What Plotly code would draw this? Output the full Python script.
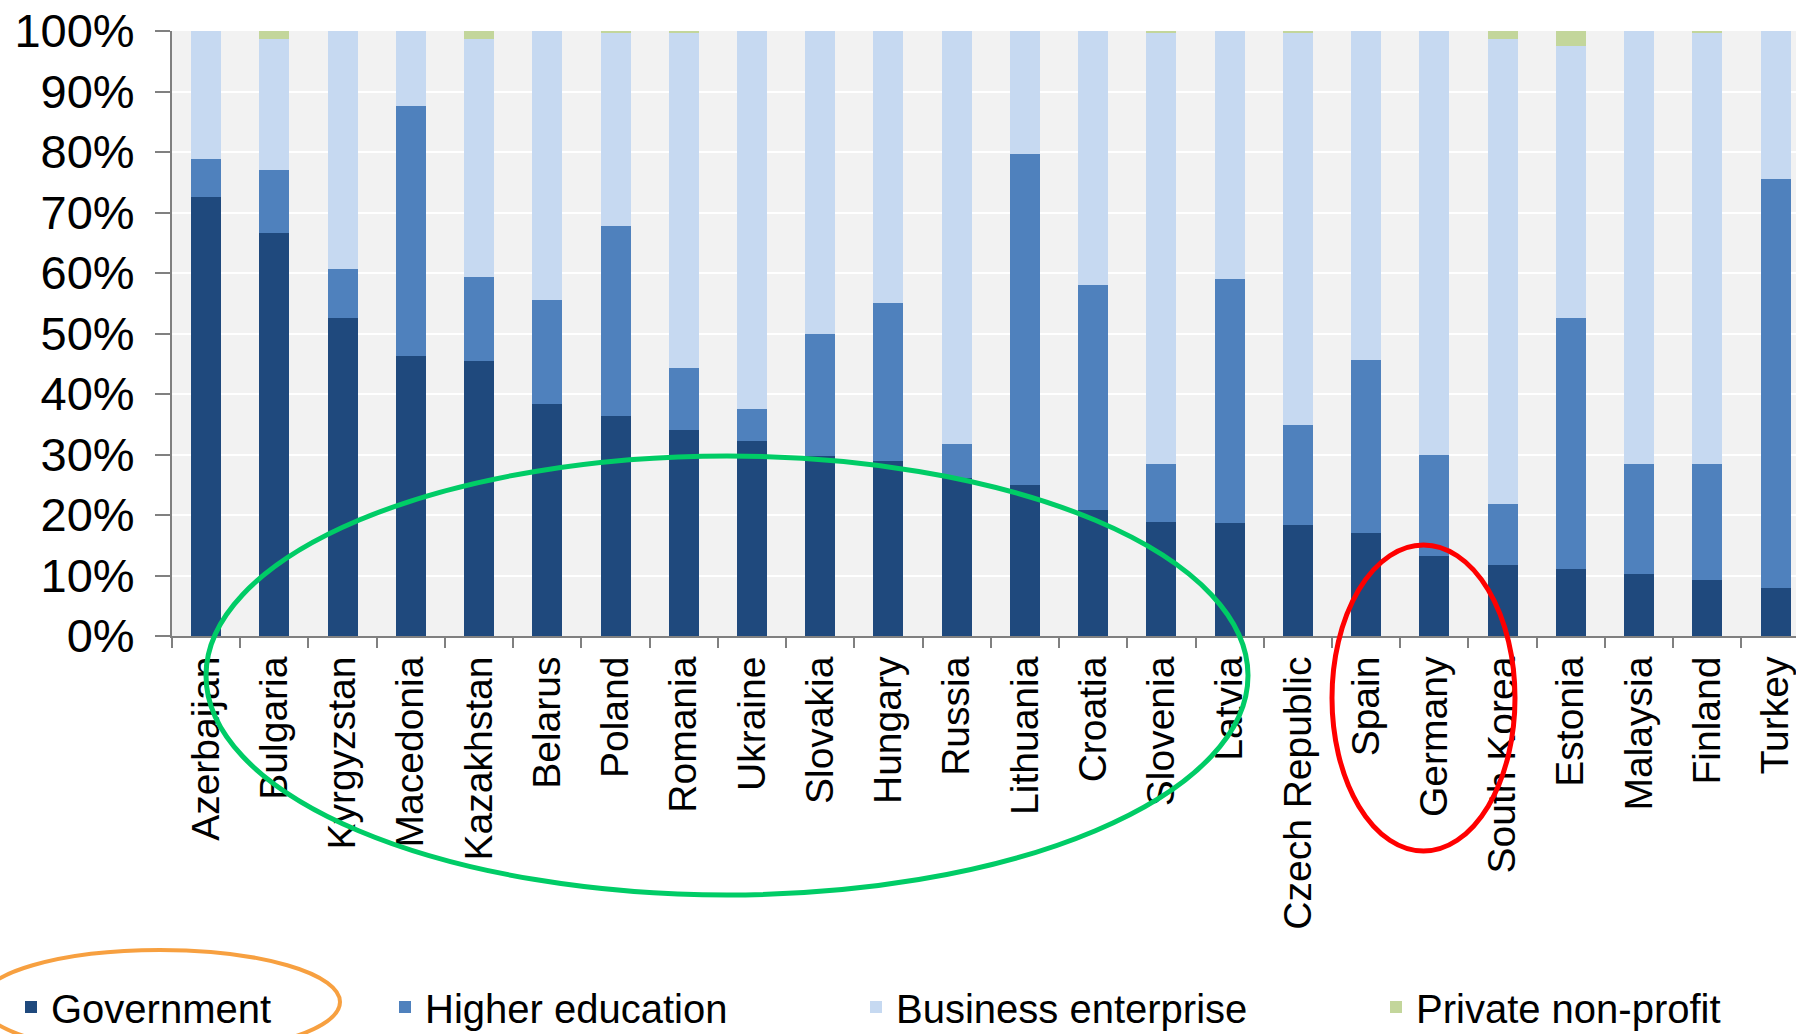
import plotly.graph_objects as go

countries = ["Azerbaijan", "Bulgaria", "Kyrgyzstan", "Macedonia", "Kazakhstan", "Belarus",
             "Poland", "Romania", "Ukraine", "Slovakia", "Hungary", "Russia", "Lithuania",
             "Croatia", "Slovenia", "Latvia", "Czech Republic", "Spain", "Germany",
             "South Korea", "Estonia", "Malaysia", "Finland", "Turkey"]

government = [72.5, 66.6, 52.5, 46.2, 45.4, 38.3, 36.3, 34.0, 32.3, 29.7, 28.9, 26.1,
              24.9, 20.9, 18.9, 18.6, 18.4, 17.0, 13.3, 11.8, 11.0, 10.2, 9.3, 7.9]
higher_education = [6.3, 10.5, 8.1, 41.4, 13.9, 17.2, 31.4, 10.3, 5.3, 20.2, 26.1, 5.6,
                    54.7, 37.2, 9.5, 40.4, 16.4, 28.6, 16.7, 10.0, 41.5, 18.3, 19.1, 67.7]
business_enterprise = [21.2, 21.5, 39.4, 12.4, 39.3, 44.5, 31.9, 55.3, 62.4, 50.1, 45.0, 68.3,
                       20.4, 41.9, 71.2, 41.0, 64.8, 54.4, 70.0, 76.8, 45.0, 71.5, 71.2, 24.4]
private_non_profit = [0.0, 1.4, 0.0, 0.0, 1.4, 0.0, 0.4, 0.4, 0.0, 0.0, 0.0, 0.0,
                      0.0, 0.0, 0.4, 0.0, 0.4, 0.0, 0.0, 1.4, 2.5, 0.0, 0.4, 0.0]

y_tick_values = [0, 10, 20, 30, 40, 50, 60, 70, 80, 90, 100]
y_tick_labels = ["0%", "10%", "20%", "30%", "40%", "50%", "60%", "70%", "80%", "90%", "100%"]

series_names = ["Government", "Higher education", "Business enterprise", "Private non-profit"]
series_colors = ["#1F497D", "#4F81BD", "#C6D9F1", "#C3D69B"]
series_values = [government, higher_education, business_enterprise, private_non_profit]
legend_ids = ["legend", "legend2", "legend3", "legend4"]

W, H = 1796, 1034
L, R, T, B = 172, 0, 31, 398
PW, PH = W - L - R, H - T - B


def px_x(p):
    return (p - L) / PW


def px_y(p):
    return (H - B - p) / PH


FONT = "Liberation Sans, Arial, sans-serif"

fig = go.Figure()
for name, color, vals, lg in zip(series_names, series_colors, series_values, legend_ids):
    fig.add_trace(go.Bar(
        x=countries, y=vals, name=name, marker=dict(color=color, line=dict(width=0)),
        width=0.44, legend=lg,
    ))

legend_text_px = [51, 425, 896, 1416]
legend_cfg = {}
for lg, tx in zip(legend_ids, legend_text_px):
    legend_cfg[lg] = dict(
        x=px_x(tx - 40), xanchor="left", y=px_y(1007), yanchor="middle",
        font=dict(family=FONT, size=40, color="#000000"),
        bgcolor="rgba(0,0,0,0)", borderwidth=0,
    )

fig.update_layout(
    width=W, height=H,
    margin=dict(l=L, r=R, t=T, b=B, pad=0, autoexpand=False),
    barmode="stack",
    paper_bgcolor="#FFFFFF",
    plot_bgcolor="#F2F2F2",
    font=dict(family=FONT, color="#000000"),
    showlegend=True,
    **legend_cfg,
    xaxis=dict(
        type="category", range=[-0.5, 23.3],
        tickangle=-90, tickfont=dict(family=FONT, size=39, color="#000000"),
        ticks="outside", tickson="boundaries", ticklen=10, tickwidth=1.5, tickcolor="#808080",
        ticklabelstandoff=3,
        showline=True, linecolor="#808080", linewidth=2,
        showgrid=False, zeroline=False, automargin=False,
    ),
    yaxis=dict(
        range=[0, 100], tickmode="array", tickvals=y_tick_values, ticktext=y_tick_labels,
        tickfont=dict(family=FONT, size=47, color="#000000"),
        ticks="outside", ticklen=15, tickwidth=1.5, tickcolor="#808080",
        ticklabelstandoff=11,
        showline=True, linecolor="#808080", linewidth=2,
        showgrid=True, gridcolor="#FFFFFF", gridwidth=2, zeroline=False, automargin=False,
    ),
    shapes=[
        dict(type="circle", xref="paper", yref="paper",
             x0=px_x(206), x1=px_x(1248), y0=px_y(895), y1=px_y(456),
             line=dict(color="#00CC66", width=5), fillcolor="rgba(0,0,0,0)"),
        dict(type="circle", xref="paper", yref="paper",
             x0=px_x(1332), x1=px_x(1515), y0=px_y(851), y1=px_y(545),
             line=dict(color="#FF0000", width=5), fillcolor="rgba(0,0,0,0)"),
        dict(type="circle", xref="paper", yref="paper",
             x0=px_x(-20), x1=px_x(340), y0=px_y(1054), y1=px_y(950),
             line=dict(color="#F7A040", width=4), fillcolor="rgba(0,0,0,0)"),
    ],
)

fig.write_html(
    "out.html",
    config={"displayModeBar": False},
    post_script="document.body.style.margin='0';document.body.style.overflow='hidden';",
)
